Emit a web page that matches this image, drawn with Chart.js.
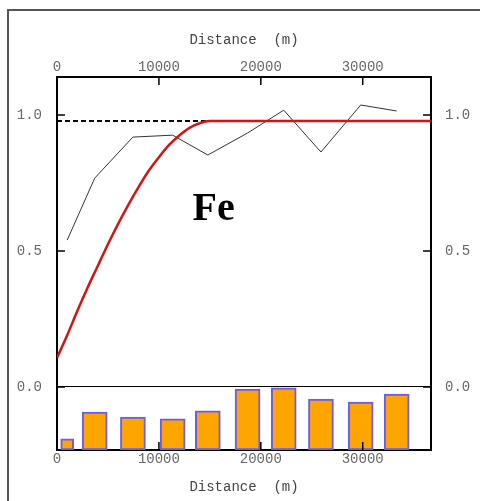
<!DOCTYPE html>
<html>
<head>
<meta charset="utf-8">
<script src="https://cdn.jsdelivr.net/npm/chart.js@4/dist/chart.umd.min.js"></script>
<style>
  html, body { margin: 0; padding: 0; background: #fff; }
  #wrap { position: relative; width: 480px; height: 501px; overflow: hidden; }
  #frame { position: absolute; left: 7px; top: 9px; width: 600px; height: 600px;
           border-top: 2px solid #555; border-left: 2px solid #555; }
  canvas { position: absolute; left: 0; top: 0; }
</style>
</head>
<body>
<div id="wrap">
  <div id="frame"></div>
  <canvas id="variogramChart" width="480" height="501"></canvas>
</div>
<script>
// lag distances (m) of the experimental variogram and pair counts
const lags = [1000, 3700, 7450, 11350, 14800, 18700, 22250, 25900, 29800, 33330];
const gammaExp = [0.54, 0.768, 0.919, 0.926, 0.853, 0.934, 1.018, 0.864, 1.037, 1.015];
const pairs = [180, 610, 530, 500, 630, 980, 1000, 820, 770, 900];

// fitted model
const modelDist = [0, 1000, 2000, 3000, 4000, 5000, 6000, 7000, 8000, 9000, 10000, 11000, 12000, 13000, 14000, 15000, 36700];
const modelGamma = [0.107, 0.19, 0.28, 0.365, 0.445, 0.525, 0.6, 0.67, 0.735, 0.795, 0.845, 0.89, 0.925, 0.953, 0.97, 0.978, 0.978];

// variance (dashed sill)
const sillDist = [0, 36700];
const sillGamma = [0.978, 0.978];

const xTicks = [0, 10000, 20000, 30000];
const yTicks = [0, 0.5, 1.0];
const element = 'Fe';
const axisTitle = 'Distance  (m)';

const xy = (xs, ys) => xs.map((x, i) => ({ x: x, y: ys[i] }));

const monoFont = { family: "'Liberation Mono', 'Courier New', monospace", size: 14 };

// ticks drawn inward, plus the element label
const innerTicks = {
    id: 'innerTicks',
    afterDatasetsDraw(chart) {
        const { ctx, chartArea: a, scales } = chart;
        const len = 8;
        ctx.save();
        ctx.strokeStyle = '#000';
        ctx.lineWidth = 1.5;
        ctx.beginPath();
        scales.x.ticks.forEach(t => {
            const px = scales.x.getPixelForValue(t.value);
            ctx.moveTo(px, a.bottom); ctx.lineTo(px, a.bottom - len);
        });
        scales.x2.ticks.forEach(t => {
            const px = scales.x2.getPixelForValue(t.value);
            ctx.moveTo(px, a.top); ctx.lineTo(px, a.top + len);
        });
        scales.y.ticks.forEach(t => {
            const py = scales.y.getPixelForValue(t.value);
            ctx.moveTo(a.left, py); ctx.lineTo(a.left + len, py);
        });
        scales.y2.ticks.forEach(t => {
            const py = scales.y2.getPixelForValue(t.value);
            ctx.moveTo(a.right, py); ctx.lineTo(a.right - len, py);
        });
        ctx.stroke();

        ctx.fillStyle = '#000';
        ctx.font = "bold 40px 'Liberation Serif', 'Times New Roman', serif";
        ctx.textBaseline = 'alphabetic';
        ctx.textAlign = 'left';
        ctx.fillText(element, scales.x.getPixelForValue(13300), scales.y.getPixelForValue(0.614));
        ctx.restore();
    }
};

const yAxis = (position, width, padding) => ({
    type: 'linear',
    position: position,
    min: -0.232,
    max: 1.14,
    afterBuildTicks: s => { s.ticks = yTicks.map(v => ({ value: v })); },
    afterFit: s => { s.width = width; },
    grid: {
        drawTicks: false,
        color: c => (c.tick && c.tick.value === 0 ? '#000' : 'rgba(0,0,0,0)'),
        lineWidth: 1
    },
    border: { display: true, color: '#000', width: 2 },
    ticks: {
        padding: padding,
        color: '#666',
        font: monoFont,
        callback: v => Number(v).toFixed(1)
    }
});

const xAxis = (position, height, titlePad) => ({
    type: 'linear',
    position: position,
    min: 0,
    max: 36700,
    offset: false,
    afterBuildTicks: s => { s.ticks = xTicks.map(v => ({ value: v })); },
    afterFit: s => { s.height = height; },
    grid: { display: true, drawOnChartArea: false, drawTicks: false, offset: false },
    border: { display: true, color: '#000', width: 2 },
    ticks: {
        padding: 1,
        maxRotation: 0,
        color: '#666',
        font: monoFont,
        callback: v => String(v)
    },
    title: {
        display: true,
        text: axisTitle,
        color: '#444',
        font: monoFont,
        padding: titlePad
    }
});

const canvas = document.getElementById('variogramChart');
if (canvas) {
    new Chart(canvas.getContext('2d'), {
        type: 'line',
        data: {
            datasets: [{
                label: 'Model',
                data: xy(modelDist, modelGamma),
                xAxisID: 'x',
                yAxisID: 'y',
                borderColor: '#d41414',
                borderWidth: 2.5,
                pointRadius: 0,
                fill: false,
                cubicInterpolationMode: 'monotone',
                order: 0
            }, {
                label: 'Variance',
                data: xy(sillDist, sillGamma),
                xAxisID: 'x',
                yAxisID: 'y',
                borderColor: '#000',
                borderWidth: 2,
                borderDash: [5, 3],
                pointRadius: 0,
                fill: false,
                order: 1
            }, {
                label: 'Experimental',
                data: xy(lags, gammaExp),
                xAxisID: 'x',
                yAxisID: 'y',
                borderColor: '#333',
                borderWidth: 1,
                pointRadius: 0,
                fill: false,
                tension: 0,
                order: 2
            }, {
                type: 'bar',
                label: 'Pairs',
                data: xy(lags.slice(0, 1), pairs.slice(0, 1)),
                xAxisID: 'x',
                yAxisID: 'yp',
                backgroundColor: '#FFA500',
                borderColor: '#6B5BEE',
                borderWidth: 2,
                borderSkipped: false,
                barThickness: 13,
                grouped: false,
                order: 3
            }, {
                type: 'bar',
                label: 'Pairs',
                data: xy(lags.slice(1), pairs.slice(1)),
                xAxisID: 'x',
                yAxisID: 'yp',
                backgroundColor: '#FFA500',
                borderColor: '#6B5BEE',
                borderWidth: 2,
                borderSkipped: false,
                barThickness: 25,
                grouped: false,
                order: 3
            }]
        },
        options: {
            responsive: false,
            animation: false,
            layout: { padding: 0 },
            plugins: {
                legend: { display: false },
                tooltip: { enabled: false }
            },
            scales: {
                x: xAxis('bottom', 51, { top: 0, bottom: 5 }),
                x2: xAxis('top', 77, { top: 32, bottom: 0 }),
                y: yAxis('left', 57, 15),
                y2: yAxis('right', 49, 14),
                yp: {
                    type: 'linear',
                    display: false,
                    min: 0,
                    max: 6000
                }
            }
        },
        plugins: [innerTicks]
    });
} else {
    console.error("Element variogramChart introuvable.");
}
</script>
</body>
</html>
